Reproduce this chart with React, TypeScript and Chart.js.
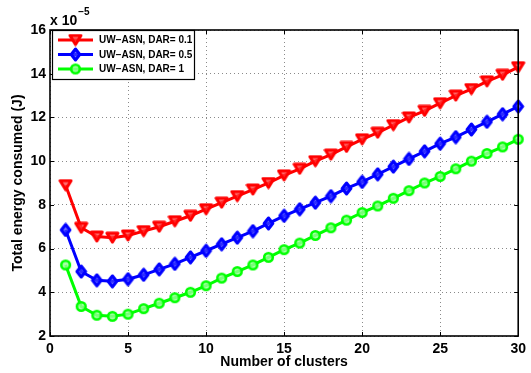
import React, { useEffect, useRef } from 'react';
import { Chart, registerables } from 'chart.js';

Chart.register(...registerables);

const clusters = [1, 2, 3, 4, 5, 6, 7, 8, 9, 10, 11, 12, 13, 14, 15, 16, 17, 18, 19, 20, 21, 22, 23, 24, 25, 26, 27, 28, 29, 30];
const dar01 = [8.9, 6.95, 6.55, 6.5, 6.6, 6.8, 7.0, 7.25, 7.5, 7.8, 8.1, 8.4, 8.7, 9.0, 9.35, 9.65, 10.0, 10.3, 10.65, 11.0, 11.3, 11.65, 12.0, 12.3, 12.65, 13.0, 13.3, 13.65, 13.95, 14.3];
const dar05 = [6.85, 4.95, 4.55, 4.5, 4.6, 4.8, 5.05, 5.3, 5.6, 5.9, 6.2, 6.5, 6.8, 7.15, 7.5, 7.8, 8.1, 8.4, 8.75, 9.05, 9.4, 9.75, 10.1, 10.45, 10.8, 11.1, 11.45, 11.8, 12.15, 12.5];
const dar1 = [5.25, 3.35, 2.95, 2.9, 3.0, 3.25, 3.5, 3.75, 4.0, 4.3, 4.65, 4.95, 5.25, 5.6, 5.95, 6.25, 6.6, 6.95, 7.3, 7.65, 7.95, 8.3, 8.65, 9.0, 9.3, 9.65, 10.0, 10.35, 10.65, 11.0];
const seriesLabels = ['UW\u2212ASN, DAR= 0.1', 'UW\u2212ASN, DAR= 0.5', 'UW\u2212ASN, DAR= 1'];
const seriesColors = ['#ff0000', '#0000ff', '#00ff00'];
const xTicks = [0, 5, 10, 15, 20, 25, 30];
const yTicks = [2, 4, 6, 8, 10, 12, 14, 16];
const xTitle = 'Number of clusters';
const yTitle = 'Total energy consumed (J)';
const exponentBase = 'x 10';
const exponentPower = '\u22125';

const FONT = "'Liberation Sans', Arial, Helvetica, sans-serif";

function makeCanvas(w: number, h: number, draw: (c: CanvasRenderingContext2D) => void) {
  const cv = document.createElement('canvas');
  cv.width = w;
  cv.height = h;
  const c = cv.getContext('2d')!;
  draw(c);
  return cv;
}

function markerTriangle() {
  return makeCanvas(15, 13, (c) => {
    c.beginPath();
    c.moveTo(2, 2);
    c.lineTo(13, 2);
    c.lineTo(7.5, 11);
    c.closePath();
    c.fillStyle = 'rgba(255,60,60,0.75)';
    c.strokeStyle = '#ff0000';
    c.lineWidth = 3;
    c.lineJoin = 'round';
    c.fill();
    c.stroke();
  });
}

function markerDiamond() {
  return makeCanvas(13, 15, (c) => {
    c.beginPath();
    c.moveTo(6.5, 2);
    c.lineTo(10.8, 7.5);
    c.lineTo(6.5, 13);
    c.lineTo(2.2, 7.5);
    c.closePath();
    c.fillStyle = 'rgba(60,60,255,0.75)';
    c.strokeStyle = '#0000ff';
    c.lineWidth = 3;
    c.lineJoin = 'round';
    c.fill();
    c.stroke();
  });
}

function markerCircle() {
  return makeCanvas(13, 13, (c) => {
    c.beginPath();
    c.arc(6.5, 6.5, 4.3, 0, Math.PI * 2);
    c.fillStyle = 'rgba(150,255,150,0.8)';
    c.fill();
    c.strokeStyle = '#00ff00';
    c.lineWidth = 2.6;
    c.stroke();
  });
}

export default function App() {
  const ref = useRef<HTMLCanvasElement | null>(null);

  useEffect(() => {
    if (!ref.current) return;
    const markers = [markerTriangle(), markerDiamond(), markerCircle()];
    const values = [dar01, dar05, dar1];

    const overlay = {
      id: 'matlabOverlay',
      afterDraw(chart: any) {
        const ctx = chart.ctx as CanvasRenderingContext2D;
        const { left, right, top, bottom } = chart.chartArea;
        const xs = chart.scales.x;
        const ys = chart.scales.y;
        ctx.save();
        // inward ticks
        ctx.strokeStyle = '#000';
        ctx.lineWidth = 1;
        const tl = 4;
        ctx.beginPath();
        xTicks.forEach((v) => {
          const px = Math.round(xs.getPixelForValue(v)) + 0.5;
          ctx.moveTo(px, bottom);
          ctx.lineTo(px, bottom - tl);
          ctx.moveTo(px, top);
          ctx.lineTo(px, top + tl);
        });
        yTicks.forEach((v) => {
          const py = Math.round(ys.getPixelForValue(v)) + 0.5;
          ctx.moveTo(left, py);
          ctx.lineTo(left + tl, py);
          ctx.moveTo(right, py);
          ctx.lineTo(right - tl, py);
        });
        ctx.stroke();
        // frame
        ctx.lineWidth = 1.6;
        ctx.strokeRect(left, top, right - left, bottom - top);

        // exponent
        ctx.fillStyle = '#000';
        ctx.textBaseline = 'alphabetic';
        ctx.textAlign = 'left';
        ctx.font = `bold 14px ${FONT}`;
        ctx.fillText(exponentBase, left, 25);
        const w = ctx.measureText(exponentBase).width;
        ctx.font = `bold 10px ${FONT}`;
        ctx.fillText(exponentPower, left + w + 1, 15);

        // legend
        const lx = left + 2;
        const ly = top;
        const lw = 142;
        const lh = 49;
        ctx.fillStyle = '#fff';
        ctx.fillRect(lx, ly, lw, lh);
        ctx.strokeStyle = '#000';
        ctx.lineWidth = 1.2;
        ctx.strokeRect(lx + 0.5, ly + 0.5, lw, lh);
        ctx.font = `bold 10px ${FONT}`;
        ctx.textBaseline = 'middle';
        const rows = [ly + 10, ly + 24.5, ly + 39];
        rows.forEach((ry, i) => {
          ctx.strokeStyle = seriesColors[i];
          ctx.lineWidth = 3;
          ctx.beginPath();
          ctx.moveTo(lx + 6, ry);
          ctx.lineTo(lx + 41, ry);
          ctx.stroke();
          const m = markers[i];
          ctx.drawImage(m, lx + 23.5 - m.width / 2, ry - m.height / 2);
          ctx.fillStyle = '#000';
          ctx.fillText(seriesLabels[i], lx + 47, ry + 0.5);
        });
        ctx.restore();
      },
    };

    const tickFont = { family: FONT, size: 14, weight: 'bold' as const };

    const chart = new Chart(ref.current, {
      type: 'line',
      data: {
        datasets: values.map((vals, i) => ({
          label: seriesLabels[i],
          data: clusters.map((x, j) => ({ x, y: vals[j] })),
          borderColor: seriesColors[i],
          backgroundColor: seriesColors[i],
          borderWidth: 3,
          pointStyle: markers[i] as any,
          pointRadius: 6,
          tension: 0,
          fill: false,
          clip: false as any,
        })),
      },
      options: {
        animation: false,
        responsive: true,
        maintainAspectRatio: false,
        layout: { padding: { top: 30, right: 7, left: 0, bottom: 0 } },
        plugins: { legend: { display: false }, tooltip: { enabled: false } },
        scales: {
          x: {
            type: 'linear',
            min: 0,
            max: 30,
            afterBuildTicks: (s: any) => {
              s.ticks = xTicks.map((v) => ({ value: v }));
            },
            afterFit: (s: any) => {
              s.height = 37;
            },
            grid: { color: '#8a8a8a', lineWidth: 1, drawTicks: false },
            border: { display: false, dash: [1, 3] },
            ticks: { font: tickFont, color: '#000', padding: 5, maxRotation: 0, autoSkip: false },
            title: {
              display: true,
              text: xTitle,
              color: '#000',
              font: tickFont,
              padding: { top: 0, bottom: 2 },
            },
          },
          y: {
            type: 'linear',
            min: 2,
            max: 16,
            afterBuildTicks: (s: any) => {
              s.ticks = yTicks.map((v) => ({ value: v }));
            },
            afterFit: (s: any) => {
              s.width = 50;
            },
            grid: { color: '#8a8a8a', lineWidth: 1, drawTicks: false },
            border: { display: false, dash: [1, 3] },
            ticks: { font: tickFont, color: '#000', padding: 4, autoSkip: false },
            title: {
              display: true,
              text: yTitle,
              color: '#000',
              font: tickFont,
              padding: { top: 10, bottom: 0 },
            },
          },
        },
      },
      plugins: [overlay],
    });
    return () => chart.destroy();
  }, []);

  return (
    <div style={{ position: 'fixed', left: 0, top: 0, width: 531, height: 373, background: '#fff' }}>
      <canvas ref={ref} />
    </div>
  );
}
